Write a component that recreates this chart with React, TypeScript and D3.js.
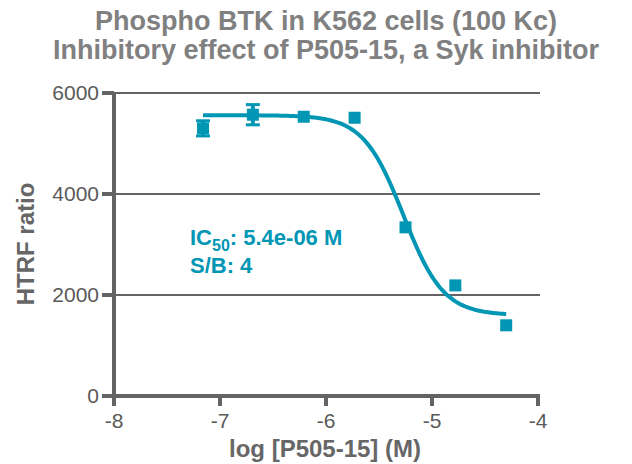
import React from "react";
import * as d3 from "d3";

const logConc = [-7.16, -6.69, -6.21, -5.73, -5.25, -4.78, -4.30];
const htrf = [5300, 5570, 5530, 5510, 3340, 2190, 1400];
const errs = [150, 200, 0, 0, 0, 0, 0];
const xTicks = [-8, -7, -6, -5, -4];
const yTicks = [0, 2000, 4000, 6000];
const fitTop = 5560;
const fitBottom = 1600;
const fitLogIC50 = -5.27;
const fitHill = 2.3;
const titleLines = ["Phospho BTK in K562 cells (100 Kc)", "Inhibitory effect of P505-15, a Syk inhibitor"];

const W = 632, H = 464;
const TEAL = "#0096B4";
const AXIS = "#636363";
const FONT = "'Liberation Sans', Arial, sans-serif";

export default function App() {
  const x = d3.scaleLinear().domain([-8, -4]).range([114, 538]);
  const y = d3.scaleLinear().domain([0, 6000]).range([396, 93]);
  const fit = (lx: number) => fitBottom + (fitTop - fitBottom) / (1 + Math.pow(10, (lx - fitLogIC50) * fitHill));
  const xs = d3.range(0, 201).map(i => logConc[0] + (logConc[logConc.length - 1] - logConc[0]) * i / 200);
  const line = d3.line<number>().x(d => x(d)).y(d => y(fit(d))).curve(d3.curveBasis);
  const sq = 12;
  return (
    <svg width={W} height={H} style={{ position: "absolute", left: 0, top: 0, background: "#fff" }}>
      {titleLines.map((t, i) => (
        <text key={i} x={326} y={30 + i * 29} textAnchor="middle" fontFamily={FONT} fontWeight="bold" fontSize={27} fill="#808080">{t}</text>
      ))}
      {yTicks.filter(v => v > 0).map(v => (
        <line key={v} x1={x(-8)} x2={x(-4) + 2} y1={y(v)} y2={y(v)} stroke={AXIS} strokeWidth={2} />
      ))}
      <line x1={x(-8)} x2={x(-8)} y1={y(6000) - 1} y2={y(0) + 2} stroke={AXIS} strokeWidth={4} />
      <line x1={x(-8) - 2} x2={x(-4) + 2} y1={y(0)} y2={y(0)} stroke={AXIS} strokeWidth={4} />
      {yTicks.map(v => (
        <g key={v}>
          <line x1={x(-8) - 12} x2={x(-8)} y1={y(v)} y2={y(v)} stroke={AXIS} strokeWidth={4} />
          <text x={99} y={y(v) + 7} textAnchor="end" fontFamily={FONT} fontSize={21} fill="#5a5a5a">{v}</text>
        </g>
      ))}
      {xTicks.map(v => (
        <g key={v}>
          <line x1={x(v)} x2={x(v)} y1={y(0)} y2={y(0) + 10} stroke={AXIS} strokeWidth={4} />
          <text x={x(v)} y={428} textAnchor="middle" fontFamily={FONT} fontSize={21} fill="#5a5a5a">{v}</text>
        </g>
      ))}
      <text x={325} y={457} textAnchor="middle" fontFamily={FONT} fontWeight="bold" fontSize={24} fill="#666">log [P505-15] (M)</text>
      <text transform={`translate(34,244) rotate(-90)`} textAnchor="middle" fontFamily={FONT} fontWeight="bold" fontSize={24} fill="#666">HTRF ratio</text>
      <path d={line(xs) || ""} fill="none" stroke={TEAL} strokeWidth={4} />
      {logConc.map((lc, i) => (
        <g key={i}>
          {errs[i] > 0 && (
            <g stroke={TEAL} strokeWidth={3}>
              <line x1={x(lc)} x2={x(lc)} y1={y(htrf[i] - errs[i])} y2={y(htrf[i] + errs[i])} strokeWidth={4} />
              <line x1={x(lc) - 7} x2={x(lc) + 7} y1={y(htrf[i] - errs[i])} y2={y(htrf[i] - errs[i])} />
              <line x1={x(lc) - 7} x2={x(lc) + 7} y1={y(htrf[i] + errs[i])} y2={y(htrf[i] + errs[i])} />
            </g>
          )}
          <rect x={x(lc) - sq / 2} y={y(htrf[i]) - sq / 2} width={sq} height={sq} fill={TEAL} />
        </g>
      ))}
      <text x={190} y={245} fontFamily={FONT} fontWeight="bold" fontSize={22} fill={TEAL}>
        IC<tspan fontSize={16} dy={6}>50</tspan><tspan dy={-6}>: 5.4e-06 M</tspan>
      </text>
      <text x={190} y={273} fontFamily={FONT} fontWeight="bold" fontSize={22} fill={TEAL}>S/B: 4</text>
    </svg>
  );
}
